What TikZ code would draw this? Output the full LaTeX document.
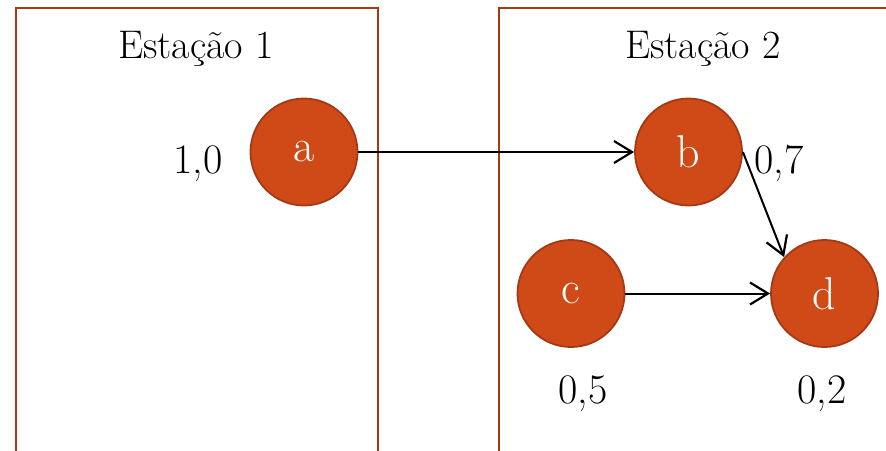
\documentclass[tikz,border=0pt]{standalone}
\usepackage{xcolor}
\usepackage{tikz}
\usetikzlibrary{arrows.meta}

\definecolor{rustfill}{HTML}{D04A18}
\definecolor{rustline}{HTML}{A33A16}

\begin{document}
\begin{tikzpicture}[x=0.5pt, y=-0.5pt,
  station/.style={draw=rustline, line width=1.4pt},
  vertex/.style={circle, draw=rustline, line width=0.9pt, fill=rustfill, minimum size=53.5pt, inner sep=0pt, text=white, font=\fontsize{23}{27}\selectfont},
  title/.style={anchor=base, font=\fontsize{20}{24}\selectfont},
  weight/.style={anchor=base, font=\fontsize{21}{25}\selectfont},
  link/.style={-{Straight Barb[length=9pt, width=11pt, line width=1.1pt]}, line width=1pt}]

\useasboundingbox (0,0) rectangle (886,450);

% station frames (open at the bottom, the second runs off the right side)
\draw[station] (16,470) -- (16,8) -- (378,8) -- (378,470);
\draw[station] (499,470) -- (499,8) -- (900,8);
\node[title] (st1) at (196,58) {Estação 1};
\node[title] (st2) at (703,58) {Estação 2};

% tasks
\node[vertex] (a) at (304,152) {a};
\node[vertex] (b) at (688.5,152) {b};
\node[vertex] (c) at (571,293.5) {c};
\node[vertex] (d) at (824.5,293.5) {d};

% times
\node[weight] (wa) at (198,173) {1,0};
\node[weight] (wb) at (779,173) {0,7};
\node[weight] (wc) at (583,403) {0,5};
\node[weight] (wd) at (822,403) {0,2};

% precedences
\draw[link] (a.east) -- (b.west);
\draw[link] (b.east) -- (d.138);
\draw[link] (c.east) -- (d.west);

\end{tikzpicture}
\end{document}
